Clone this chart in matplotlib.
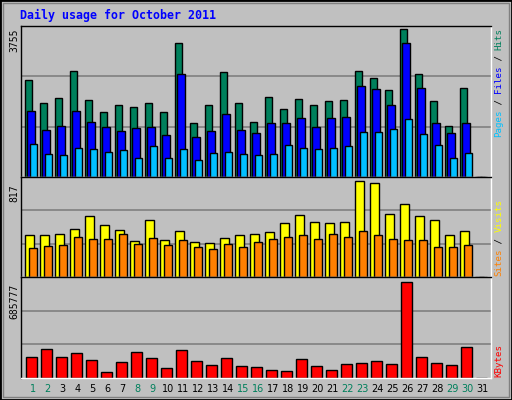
import matplotlib
matplotlib.use("Agg")
import matplotlib.pyplot as plt
from matplotlib.patches import Rectangle

days = list(range(1, 32))
hits = [2455,1894,1996,2684,1945,1640,1818,1792,1869,1665,3398,1385,1818,2659,1894,1410,2022,1741,1971,1843,1920,1945,2684,2506,2200,3755,2608,1920,1308,2251,0]
files = [1690,1206,1308,1690,1410,1283,1181,1257,1283,1079,2608,1028,1181,1614,1206,1130,1385,1385,1512,1283,1512,1538,2302,2226,1843,3398,2251,1385,1130,1385,0]
pages = [850,595,569,748,722,646,697,493,799,493,722,442,620,646,595,569,595,824,748,722,748,799,1155,1155,1232,1487,1104,824,493,620,0]
visits = [355,355,364,408,524,444,400,311,488,320,391,302,293,337,355,364,382,462,533,471,462,471,817,808,542,622,524,488,355,391,0]
sites = [249,269,275,346,329,329,364,284,337,275,320,258,240,284,258,302,329,346,355,329,364,346,391,355,329,320,320,258,258,275,0]
kbytes = [150720,203472,150720,180864,128112,45216,113040,188400,143184,67824,195936,120576,90432,143184,82896,75360,60288,52752,135648,82896,60288,97968,105504,120576,97968,685777,150720,105504,90432,218544,0]
weekend = [1,2,8,9,15,16,22,23,29,30]

W, H = 512, 400
fig = plt.figure(figsize=(W/100, H/100), dpi=100)
fig.patch.set_facecolor("#C0C0C0")
# borders
fig.add_artist(Rectangle((0,0),1,1,transform=fig.transFigure,fill=False,edgecolor="black",lw=2))
fig.add_artist(Rectangle((3/W,3/H),(W-6)/W,(H-6)/H,transform=fig.transFigure,fill=False,edgecolor="#808080",lw=1))

def ax_at(top, bottom):
    return fig.add_axes([20.7/W, 1-bottom/H, 470/W, (bottom-top)/H])

xl = (-0.307, 31.026)
panels = []
def setup(ax, ymax):
    ax.set_facecolor("#C0C0C0")
    ax.set_xlim(*xl); ax.set_ylim(0, ymax)
    ax.set_xticks([]); ax.set_yticks([])
    for s in ax.spines.values():
        s.set_color("black"); s.set_linewidth(1)
    ax.spines["right"].set_color("white"); ax.spines["bottom"].set_color("white")
    for f in (1/3, 2/3):
        ax.axhline(ymax*f, color="#808080", lw=1.2, zorder=0)

def bars(ax, vals, off, w, color):
    ks = [d-1 for d in days]
    ax.bar([k+off for k in ks], vals, width=w, align="edge", color=color, edgecolor="black", lw=1, zorder=2)

a1 = ax_at(26, 177); setup(a1, max(hits)*150.7/147.4)
bars(a1, hits, 0.0, 0.467, "#00805C")
bars(a1, files, 0.09, 0.53, "#0000FF")
bars(a1, pages, 0.29, 0.47, "#00C0FF")

a2 = ax_at(177, 277); setup(a2, max(visits)*96.3/92)
bars(a2, visits, 0.0, 0.56, "#FFFF00")
bars(a2, sites, 0.27, 0.49, "#FF8000")

a3 = ax_at(277, 378); setup(a3, max(kbytes)*95.3/91)
bars(a3, kbytes, 0.067, 0.69, "#FF0000")

mono = "DejaVu Sans Mono"
fig.text(20/W, 1-15/H, "Daily usage for October 2011", color="#0000FF", family=mono,
         fontweight="bold", fontsize=8.4, va="center", ha="left")
for txt, ytop in ((str(max(hits)), 29), (str(max(visits)), 184), (str(max(kbytes)), 284)):
    fig.text(14/W, 1-ytop/H, txt, rotation=90, family=mono, fontsize=7, va="top", ha="center", color="black")

def rlabel(parts, ybot):
    y = ybot
    for t, c in parts:
        tt = fig.text(499/W, 1-y/H, t, rotation=90, family=mono, fontsize=6.6, color=c, va="bottom", ha="center")
        y -= len(t)*5.45
rlabel([("Pages", "#00C0FF"), (" / ", "#000000"), ("Files", "#0000FF"), (" / ", "#000000"), ("Hits", "#00805C")], 137)
rlabel([("Sites", "#FF8000"), (" / ", "#000000"), ("Visits", "#FFFF00")], 276)
rlabel([("KBytes", "#FF0000")], 377)

for d in days:
    xpix = 20.7 + (d-1+0.307+0.49)*15
    fig.text(xpix/W, 1-389/H, str(d), ha="center", va="center", fontsize=7,
             color="#00805C" if d in weekend else "black")

fig.savefig("out.png", dpi=100, facecolor=fig.get_facecolor())
